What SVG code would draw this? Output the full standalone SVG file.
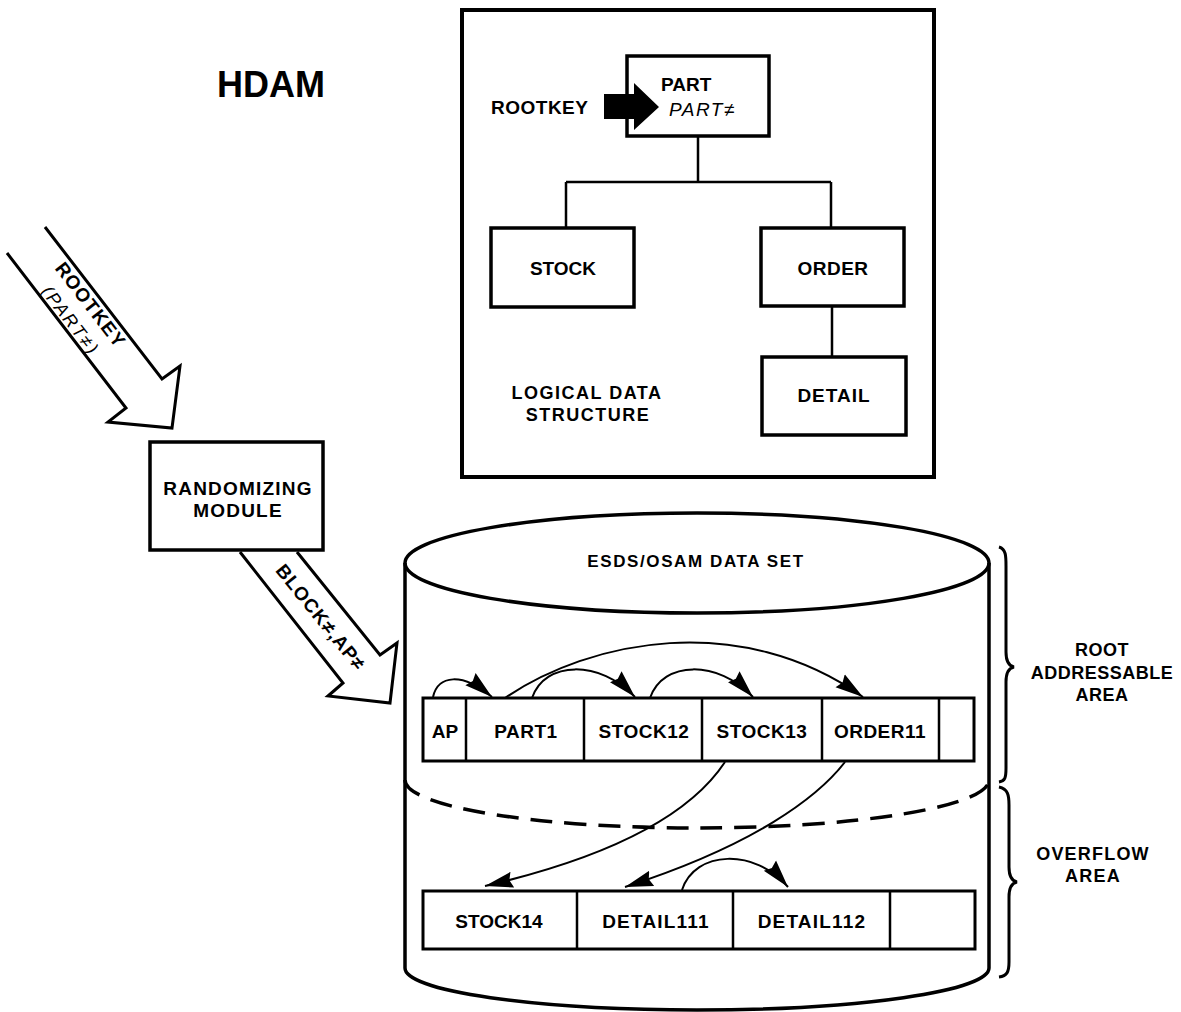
<svg xmlns="http://www.w3.org/2000/svg" width="1181" height="1012" viewBox="0 0 1181 1012">
<defs>
<style>
.t{font-family:"Liberation Sans",Arial,Helvetica,sans-serif;font-weight:bold;font-size:19px;letter-spacing:0.5px;fill:#000}
.c{text-anchor:middle}
.it{font-family:"Liberation Sans",Arial,Helvetica,sans-serif;font-style:italic;font-size:19px;letter-spacing:1.5px;fill:#000}
.box{fill:#fff;stroke:#000;stroke-width:3.5}
.cell{fill:none;stroke:#000;stroke-width:2.5}
.ln{fill:none;stroke:#000;stroke-width:2.5}
.cyl{fill:none;stroke:#000;stroke-width:3.5}
.arc{fill:none;stroke:#000;stroke-width:2;marker-end:url(#ah)}
.hollow{fill:#fff;stroke:#000;stroke-width:3;stroke-linejoin:miter}
.brace{fill:none;stroke:#000;stroke-width:3}
</style>
<marker id="ah" markerUnits="userSpaceOnUse" markerWidth="30" markerHeight="18" refX="28" refY="9" orient="auto" viewBox="0 0 30 18">
<path d="M0,1 L28,9 L0,17 L3,9 z" fill="#000"/>
</marker>
</defs>
<rect width="1181" height="1012" fill="#fff"/>

<g id="title">
<text x="217" y="97" style="font-family:'Liberation Sans',Arial,sans-serif;font-weight:bold;font-size:36px;fill:#000">HDAM</text>
</g>

<g id="logical-structure">
<rect x="462" y="10" width="472" height="467" fill="none" stroke="#000" stroke-width="4"/>
<text class="t c" x="587" y="399" style="font-size:18px;letter-spacing:1.5px">LOGICAL DATA</text>
<text class="t c" x="588" y="421" style="font-size:18px;letter-spacing:1.5px">STRUCTURE</text>
</g>

<g id="connectors">
<path class="ln" d="M698,136 V182 M566,182 H831 M566,182 V228 M831,182 V228 M832,306 V357"/>
<path class="arc" d="M433,697 C438,675 462,672 492,697"/>
<path class="arc" d="M532,698 C545,660 600,660 635,697"/>
<path class="arc" d="M650,698 C663,660 718,660 753,697"/>
<path class="arc" d="M505,698 C590,640 740,610 863,697"/>
<path class="arc" d="M725,762 C700,800 640,850 485,886"/>
<path class="arc" d="M845,762 C818,797 755,845 625,887"/>
<path class="arc" d="M682,890 C695,850 755,848 788,887"/>
</g>

<g id="part">
<rect class="box" x="627" y="56" width="142" height="80"/>
<text class="t" x="661" y="91" style="letter-spacing:0">PART</text>
<text class="it" x="669" y="116">PART≠</text>
</g>

<g id="rootkey-arrow">
<text class="t" x="491" y="114">ROOTKEY</text>
<path d="M604,94 H634 V83 L659,107 L634,130 V119 H604 Z" fill="#000"/>
</g>

<g id="stock">
<rect class="box" x="491" y="228" width="143" height="79"/>
<text class="t c" x="563" y="275" style="letter-spacing:0">STOCK</text>
</g>

<g id="order">
<rect class="box" x="761" y="228" width="143" height="78"/>
<text class="t c" x="833" y="275">ORDER</text>
</g>

<g id="detail">
<rect class="box" x="762" y="357" width="144" height="78"/>
<text class="t c" x="834" y="402" style="letter-spacing:1px">DETAIL</text>
</g>

<g id="rootkey-input">
<polyline class="hollow" points="45,227 162,379 180,366 172,428 108,422 126,408 7,253"/>
<g transform="translate(81.5,312) rotate(52.4)">
<text class="t c" x="0" y="-5" style="letter-spacing:1.2px">ROOTKEY</text>
<text class="c" x="0" y="20" style="font-family:'Liberation Sans',Arial,sans-serif;font-style:italic;font-size:18px;letter-spacing:2px;fill:#000">(PART≠)</text>
</g>
</g>

<g id="randomizing-module">
<rect class="box" x="150" y="442" width="173" height="108"/>
<text class="t c" x="238" y="495" style="letter-spacing:1.2px">RANDOMIZING</text>
<text class="t c" x="238" y="517" style="letter-spacing:1.2px">MODULE</text>
</g>

<g id="block-arrow">
<polyline class="hollow" points="297,552 380,655 397,643 390,703 328,696 343,683 240,552"/>
<g transform="translate(321,617) rotate(51)">
<text class="t c" x="0" y="7" style="letter-spacing:1px">BLOCK≠,AP≠</text>
</g>
</g>

<g id="dataset">
<ellipse class="cyl" cx="697" cy="563" rx="292" ry="50" fill="#fff"/>
<path class="cyl" d="M405,563 V968 A292,42 0 0 0 989,968 V563"/>
<path d="M405,780 A292,48 0 0 0 989,780" fill="none" stroke="#000" stroke-width="3.5" stroke-dasharray="22 12"/>
<text class="t c" x="696" y="567" style="font-size:17px;letter-spacing:1.6px">ESDS/OSAM DATA SET</text>
</g>

<g id="root-row">
<rect class="box" x="423" y="698" width="551" height="63" style="stroke-width:3"/>
<path class="cell" d="M466,698 V761 M584,698 V761 M702,698 V761 M822,698 V761 M939,698 V761"/>
<text class="t c" x="445" y="738" style="letter-spacing:0">AP</text>
<text class="t c" x="526" y="738">PART1</text>
<text class="t c" x="644" y="738">STOCK12</text>
<text class="t c" x="762" y="738">STOCK13</text>
<text class="t c" x="880" y="738">ORDER11</text>
</g>

<g id="overflow-row">
<rect class="box" x="423" y="891" width="552" height="58" style="stroke-width:3"/>
<path class="cell" d="M577,891 V949 M733,891 V949 M890,891 V949"/>
<text class="t c" x="499" y="928" style="letter-spacing:0">STOCK14</text>
<text class="t c" x="656" y="928" style="letter-spacing:1.2px">DETAIL111</text>
<text class="t c" x="812" y="928" style="letter-spacing:1.2px">DETAIL112</text>
</g>

<g id="root-addressable-area">
<path class="brace" d="M999,547 C1006,549 1006,556 1006,566 L1006,652 C1006,662 1009,666 1014,667 C1009,668 1006,672 1006,682 L1006,768 C1006,778 1005,781 999,782"/>
<text class="t c" x="1102" y="656" style="font-size:18px">ROOT</text>
<text class="t c" x="1102" y="679" style="font-size:18px">ADDRESSABLE</text>
<text class="t c" x="1102" y="701" style="font-size:18px">AREA</text>
</g>

<g id="overflow-area">
<path class="brace" d="M999,787 C1008,789 1009,795 1009,805 L1009,867 C1009,877 1012,881 1017,882 C1012,883 1009,887 1009,897 L1009,962 C1009,972 1007,976 999,977"/>
<text class="t c" x="1093" y="860" style="font-size:18px;letter-spacing:1.2px">OVERFLOW</text>
<text class="t c" x="1093" y="882" style="font-size:18px;letter-spacing:1.2px">AREA</text>
</g>
</svg>
